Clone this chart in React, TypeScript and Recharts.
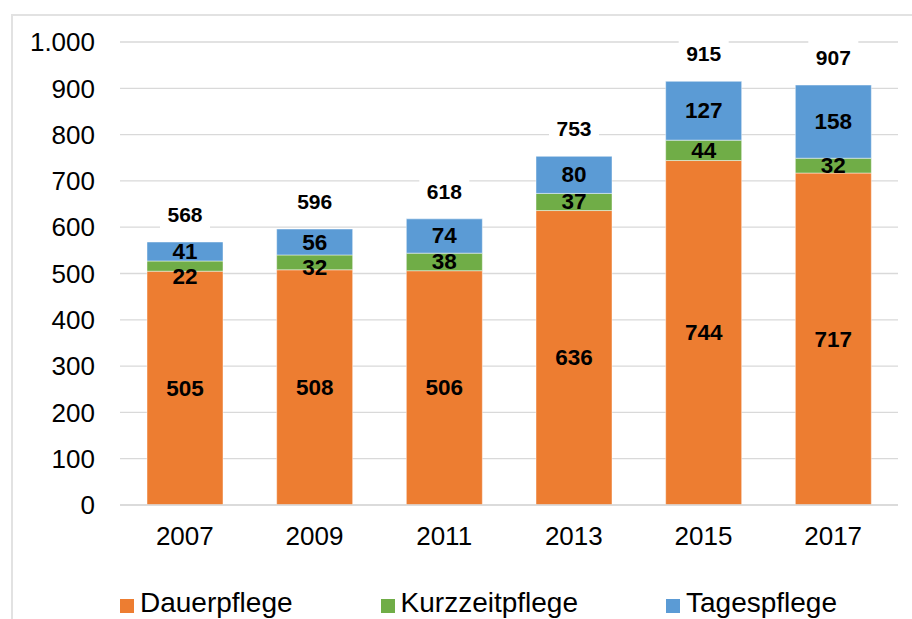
import React from 'react';
import { BarChart, Bar, XAxis, YAxis, CartesianGrid, LabelList } from 'recharts';

const years = ['2007', '2009', '2011', '2013', '2015', '2017'];
const dauerpflege = [505, 508, 506, 636, 744, 717];
const kurzzeitpflege = [22, 32, 38, 37, 44, 32];
const tagespflege = [41, 56, 74, 80, 127, 158];
const totals = [568, 596, 618, 753, 915, 907];
const yTicks = [0, 100, 200, 300, 400, 500, 600, 700, 800, 900, 1000];

const seriesNames = ['Dauerpflege', 'Kurzzeitpflege', 'Tagespflege'];
const seriesColors = ['#ED7D31', '#70AD47', '#5B9BD5'];

const data = years.map((year, i) => ({
  year,
  dauerpflege: dauerpflege[i],
  kurzzeitpflege: kurzzeitpflege[i],
  tagespflege: tagespflege[i],
  total: totals[i],
}));

const FONT = '"Liberation Sans", Arial, sans-serif';

const fmt = (v: number) => String(v).replace(/\B(?=(\d{3})+(?!\d))/g, '.');

const TotalLabel = (props: any) => {
  const { x, y, width, value } = props;
  const cx = Number(x) + Number(width) / 2;
  const cy = Number(y) - 27.5;
  return (
    <g>
      <rect x={cx - 25} y={cy - 17} width={50} height={34} fill="#ffffff" />
      <text
        x={cx}
        y={cy}
        textAnchor="middle"
        dominantBaseline="central"
        fontFamily={FONT}
        fontWeight="bold"
        fontSize={21}
        fill="#000"
      >
        {value}
      </text>
    </g>
  );
};

const SegText = ({ cx, cy, value }: { cx: number; cy: number; value: any }) => (
  <text
    x={cx}
    y={cy}
    textAnchor="middle"
    dominantBaseline="central"
    fontFamily={FONT}
    fontWeight="bold"
    fontSize={22.5}
    fill="#000"
  >
    {value}
  </text>
);

const CenterLabel = (props: any) => {
  const { x, y, width, height, value } = props;
  return <SegText cx={Number(x) + Number(width) / 2} cy={Number(y) + Number(height) / 2} value={value} />;
};

// Green labels: keep clear of the blue label above (like the source chart does)
const GreenLabel = (props: any) => {
  const { x, y, width, height, value, index } = props;
  const h = Number(height);
  const pxPerUnit = h / kurzzeitpflege[index];
  const blueCenter = Number(y) - (tagespflege[index] * pxPerUnit) / 2;
  const cy = Math.max(Number(y) + h / 2, blueCenter + 25);
  return <SegText cx={Number(x) + Number(width) / 2} cy={cy} value={value} />;
};

export default function App() {
  return (
    <div
      style={{
        position: 'absolute',
        left: 0,
        top: 0,
        width: 912,
        height: 619,
        background: '#fff',
        fontFamily: FONT,
        overflow: 'hidden',
      }}
    >
      <div
        style={{
          position: 'absolute',
          left: 11,
          top: 14,
          width: 940,
          height: 640,
          border: '2px solid #e2e2e2',
          boxSizing: 'border-box',
        }}
      />
      <div style={{ position: 'absolute', left: 0, top: 0 }}>
        <BarChart
          width={912}
          height={619}
          data={data}
          margin={{ top: 42, right: 14, left: 0, bottom: 74 }}
          barSize={76}
        >
          <CartesianGrid vertical={false} stroke="#d9d9d9" strokeWidth={1.3} />
          <XAxis
            dataKey="year"
            axisLine={{ stroke: '#d9d9d9', strokeWidth: 1.3 }}
            tickLine={false}
            tickSize={0}
            tickMargin={22}
            height={40}
            tick={{ fill: '#000', fontSize: 26, fontFamily: FONT }}
          />
          <YAxis
            domain={[0, 1000]}
            ticks={yTicks}
            interval={0}
            axisLine={false}
            tickLine={false}
            tickSize={0}
            tickMargin={25}
            width={120}
            tickFormatter={fmt}
            tick={{ fill: '#000', fontSize: 26, fontFamily: FONT }}
          />
          <Bar
            dataKey="dauerpflege"
            stackId="a"
            fill={seriesColors[0]}
            stroke="#ffffff"
            strokeOpacity={0.45}
            strokeWidth={1}
            isAnimationActive={false}
          >
            <LabelList dataKey="dauerpflege" content={CenterLabel} />
          </Bar>
          <Bar
            dataKey="kurzzeitpflege"
            stackId="a"
            fill={seriesColors[1]}
            stroke="#ffffff"
            strokeOpacity={0.45}
            strokeWidth={1}
            isAnimationActive={false}
          >
            <LabelList dataKey="kurzzeitpflege" content={GreenLabel} />
          </Bar>
          <Bar
            dataKey="tagespflege"
            stackId="a"
            fill={seriesColors[2]}
            stroke="#ffffff"
            strokeOpacity={0.45}
            strokeWidth={1}
            isAnimationActive={false}
          >
            <LabelList dataKey="tagespflege" content={CenterLabel} />
            <LabelList dataKey="total" content={TotalLabel} />
          </Bar>
        </BarChart>
      </div>
      <div
        style={{
          position: 'absolute',
          left: 120,
          top: 589,
          display: 'flex',
          alignItems: 'center',
          height: 27,
          fontSize: 28,
          lineHeight: 1,
          color: '#000',
          whiteSpace: 'nowrap',
        }}
      >
        {seriesNames.map((name, i) => (
          <div
            key={name}
            style={{ display: 'flex', alignItems: 'center', marginRight: i < seriesNames.length - 1 ? 88 : 0 }}
          >
            <div
              style={{
                width: 14,
                height: 14,
                background: seriesColors[i],
                marginRight: 6,
                position: 'relative',
                top: 3,
              }}
            />
            <span>{name}</span>
          </div>
        ))}
      </div>
    </div>
  );
}
